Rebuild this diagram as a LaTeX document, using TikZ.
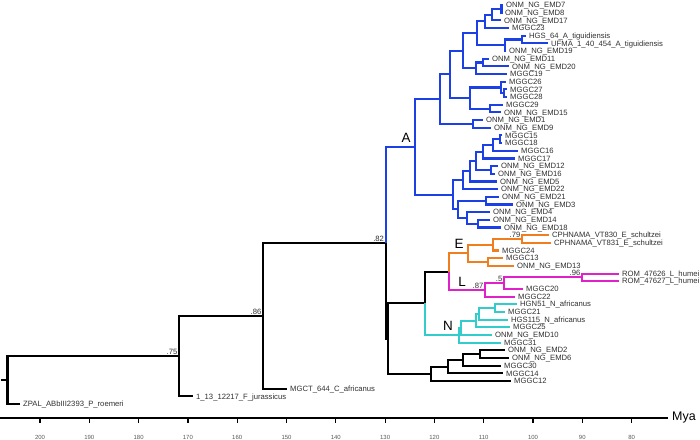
\documentclass[tikz,border=0pt]{standalone}
\usepackage{fontspec}
\setmainfont{Liberation Sans}
\definecolor{cA}{HTML}{1A40E6}
\definecolor{cE}{HTML}{F07D1E}
\definecolor{cL}{HTML}{E020C8}
\definecolor{cN}{HTML}{33CCCC}
\definecolor{txt}{HTML}{303030}
\tikzset{
  br/.style={line width=2.1bp, line join=miter},
  lbl/.style={anchor=base west, inner sep=0pt, xshift=3bp, yshift=-2.7bp, font=\fontsize{7.7}{8}\selectfont, text=txt},
  suplbl/.style={anchor=south east, inner sep=0pt, xshift=-1.5bp, yshift=1.4bp, font=\fontsize{7.7}{8}\selectfont, text=txt},
  cladelbl/.style={anchor=base, inner sep=0pt, font=\fontsize{13.5}{14}\selectfont, text=black},
  ticklbl/.style={anchor=center, inner sep=0pt, font=\fontsize{6}{7}\selectfont, text=black!65},
}
\newcommand\leaf[4]{\coordinate (t#1) at (#2,#3); \node[lbl] (L#1) at (t#1) {#4};}
\begin{document}
\begin{tikzpicture}[x=1bp,y=-1bp]
\useasboundingbox (0,0) rectangle (700,440);
% leaves
\leaf{1}{503}{5.00}{ONM\_NG\_EMD7}
\leaf{2}{502}{12.67}{ONM\_NG\_EMD8}
\leaf{3}{501}{20.35}{ONM\_NG\_EMD17}
\leaf{4}{509}{28.02}{MGGC23}
\leaf{5}{526}{35.69}{HGS\_64\_A\_tiguidiensis}
\leaf{6}{548}{43.37}{UFMA\_1\_40\_454\_A\_tiguidiensis}
\leaf{7}{506}{51.04}{ONM\_NG\_EMD19}
\leaf{8}{489}{58.71}{ONM\_NG\_EMD11}
\leaf{9}{509}{66.38}{ONM\_NG\_EMD20}
\leaf{10}{507}{74.06}{MGGC19}
\leaf{11}{506}{81.73}{MGGC26}
\leaf{12}{507}{89.40}{MGGC27}
\leaf{13}{507}{97.08}{MGGC28}
\leaf{14}{503}{104.75}{MGGC29}
\leaf{15}{501}{112.42}{ONM\_NG\_EMD15}
\leaf{16}{483}{120.10}{ONM\_NG\_EMD1}
\leaf{17}{491}{127.77}{ONM\_NG\_EMD9}
\leaf{18}{502}{135.44}{MGGC15}
\leaf{19}{502}{143.11}{MGGC18}
\leaf{20}{518}{150.79}{MGGC16}
\leaf{21}{515}{158.46}{MGGC17}
\leaf{22}{498}{166.13}{ONM\_NG\_EMD12}
\leaf{23}{495}{173.81}{ONM\_NG\_EMD16}
\leaf{24}{497}{181.48}{ONM\_NG\_EMD5}
\leaf{25}{498}{189.15}{ONM\_NG\_EMD22}
\leaf{26}{499}{196.83}{ONM\_NG\_EMD21}
\leaf{27}{513}{204.50}{ONM\_NG\_EMD3}
\leaf{28}{490}{212.17}{ONM\_NG\_EMD4}
\leaf{29}{490}{219.84}{ONM\_NG\_EMD14}
\leaf{30}{501}{227.52}{ONM\_NG\_EMD18}
\leaf{31}{549}{235.19}{CPHNAMA\_VT830\_E\_schultzei}
\leaf{32}{551}{242.86}{CPHNAMA\_VT831\_E\_schultzei}
\leaf{33}{499}{250.54}{MGGC24}
\leaf{34}{503}{258.21}{MGGC13}
\leaf{35}{514}{265.88}{ONM\_NG\_EMD13}
\leaf{36}{619}{273.56}{ROM\_47626\_L\_humei}
\leaf{37}{619}{281.23}{ROM\_47627\_L\_humei}
\leaf{38}{523}{288.90}{MGGC20}
\leaf{39}{515}{296.57}{MGGC22}
\leaf{40}{517}{304.25}{HGN51\_N\_africanus}
\leaf{41}{505}{311.92}{MGGC21}
\leaf{42}{508}{319.59}{HGS115\_N\_africanus}
\leaf{43}{510}{327.27}{MGGC25}
\leaf{44}{492}{334.94}{ONM\_NG\_EMD10}
\leaf{45}{501}{342.61}{MGGC31}
\leaf{46}{505}{350.29}{ONM\_NG\_EMD2}
\leaf{47}{509}{357.96}{ONM\_NG\_EMD6}
\leaf{48}{501}{365.63}{MGGC30}
\leaf{49}{503}{373.31}{MGGC14}
\leaf{50}{511}{380.98}{MGGC12}
\leaf{51}{287}{388.65}{MGCT\_644\_C\_africanus}
\leaf{52}{193}{396.32}{1\_13\_12217\_F\_jurassicus}
\leaf{53}{20}{404.00}{ZPAL\_ABbIII2393\_P\_roemeri}
% internal nodes
\coordinate (a1) at (501.5,8.84);
\coordinate (a2) at (492,14.59);
\coordinate (a3) at (485,21.31);
\coordinate (b1) at (522,39.53);
\coordinate (b2) at (505,45.29);
\coordinate (a4) at (477,33.30);
\coordinate (c1) at (483,62.55);
\coordinate (c2) at (476,68.31);
\coordinate (a5) at (463,50.80);
\coordinate (d1) at (504,93.24);
\coordinate (d2) at (501,87.49);
\coordinate (e1) at (490,108.59);
\coordinate (d3) at (470,98.04);
\coordinate (a6) at (450,74.42);
\coordinate (f1) at (473,123.94);
\coordinate (a7) at (440,99.18);
\coordinate (g1) at (500,139.28);
\coordinate (g2) at (493,145.03);
\coordinate (g3) at (483,151.75);
\coordinate (h1) at (491,169.97);
\coordinate (g4) at (476,160.86);
\coordinate (g5) at (470,171.17);
\coordinate (g6) at (463,180.16);
\coordinate (i1) at (486,200.67);
\coordinate (i3) at (478,223.68);
\coordinate (i2) at (467,217.93);
\coordinate (i4) at (458,209.30);
\coordinate (g7) at (453,194.73);
\coordinate (nA) at (415,146.96);
\coordinate (eA) at (522,239.03);
\coordinate (eB) at (493,244.79);
\coordinate (eC) at (488,262.05);
\coordinate (nE) at (468,253.42);
\coordinate (lA) at (582,277.40);
\coordinate (lB) at (504,283.15);
\coordinate (nL) at (485,289.86);
\coordinate (nEL) at (449,271.64);
\coordinate (n1) at (495,308.09);
\coordinate (n2) at (479,313.84);
\coordinate (n3) at (476,320.56);
\coordinate (n4) at (461,327.75);
\coordinate (nN) at (459,335.18);
\coordinate (nELN) at (425,303.41);
\coordinate (k1) at (480,354.13);
\coordinate (k2) at (463,359.88);
\coordinate (k3) at (448,366.60);
\coordinate (nK) at (431,373.79);
\coordinate (nX) at (388,338.60);
\coordinate (n82) at (385.7,242.78);
\coordinate (n86) at (263,315.72);
\coordinate (n75) at (179,356.02);
\coordinate (root) at (7.5,380.01);
\coordinate (stub) at (1,380.01);
% black branches
\draw[br] (stub) -- (root);
\foreach \p/\c in {root/n75, root/t53, n75/n86, n75/t52, n86/n82, n86/t51, n82/nX,
  nX/nELN, nX/nK, nELN/nEL, nK/k3, nK/t50, k3/k2, k3/t49, k2/k1, k2/t48, k1/t46, k1/t47}
  \draw[br] (\p) |- (\c);
% clade A
\foreach \p/\c in {n82/nA, nA/a7, nA/g7, a7/a6, a7/f1, a6/a5, a6/d3, a5/a4, a5/c2,
  a4/a3, a4/b2, a3/a2, a3/t4, a2/a1, a2/t3, a1/t1, a1/t2, b2/b1, b2/t7, b1/t5, b1/t6,
  c2/c1, c2/t10, c1/t8, c1/t9, d3/d2, d3/e1, d2/t11, d2/d1, d1/t12, d1/t13, e1/t14, e1/t15,
  f1/t16, f1/t17, g7/g6, g7/i4, g6/g5, g6/t25, g5/g4, g5/t24, g4/g3, g4/h1, g3/g2, g3/t21,
  g2/g1, g2/t20, g1/t18, g1/t19, h1/t22, h1/t23, i4/i1, i4/i2, i1/t26, i1/t27, i2/t28,
  i2/i3, i3/t29, i3/t30}
  \draw[br,cA] (\p) |- (\c);
% clade E
\foreach \p/\c in {nEL/nE, nE/eB, nE/eC, eB/eA, eB/t33, eA/t31, eA/t32, eC/t34, eC/t35}
  \draw[br,cE] (\p) |- (\c);
% clade L
\foreach \p/\c in {nEL/nL, nL/lB, nL/t39, lB/lA, lB/t38, lA/t36, lA/t37}
  \draw[br,cL] (\p) |- (\c);
% clade N
\foreach \p/\c in {nELN/nN, nN/n4, nN/t45, n4/n3, n4/t44, n3/n2, n3/t43, n2/n1, n2/t42, n1/t40, n1/t41}
  \draw[br,cN] (\p) |- (\c);
% support values
\node[suplbl] (s75) at (n75) {.75};
\node[suplbl] (s86) at (n86) {.86};
\node[suplbl] (s82) at (n82) {.82};
\node[suplbl] (s79) at (eA) {.79};
\node[suplbl] (s96) at (lA) {.96};
\node[suplbl] (s5) at (lB) {.5};
\node[suplbl] (s87) at (nL) {.87};
% clade letters
\node[cladelbl] (labA) at (406,143) {A};
\node[cladelbl] (labE) at (459,248.5) {E};
\node[cladelbl] (labL) at (462,287) {L};
\node[cladelbl] (labN) at (448,331) {N};
% time axis
\coordinate (axL) at (0,418);
\coordinate (axR) at (668,418);
\draw[line width=1.8bp] (axL) -- (axR);
\node[anchor=center, inner sep=0pt, font=\fontsize{12.5}{13}\selectfont] (mya) at (684,418) {Mya};
\foreach \t in {200,190,...,80}{
  \pgfmathsetmacro\xx{40+(200-\t)*4.93}
  \coordinate (tk\t) at (\xx,418);
  \draw[line width=1.2bp] (tk\t) -- ++(0,5);
  \node[ticklbl] (tl\t) at (\xx,437) {\t};
}
\end{tikzpicture}
\end{document}
